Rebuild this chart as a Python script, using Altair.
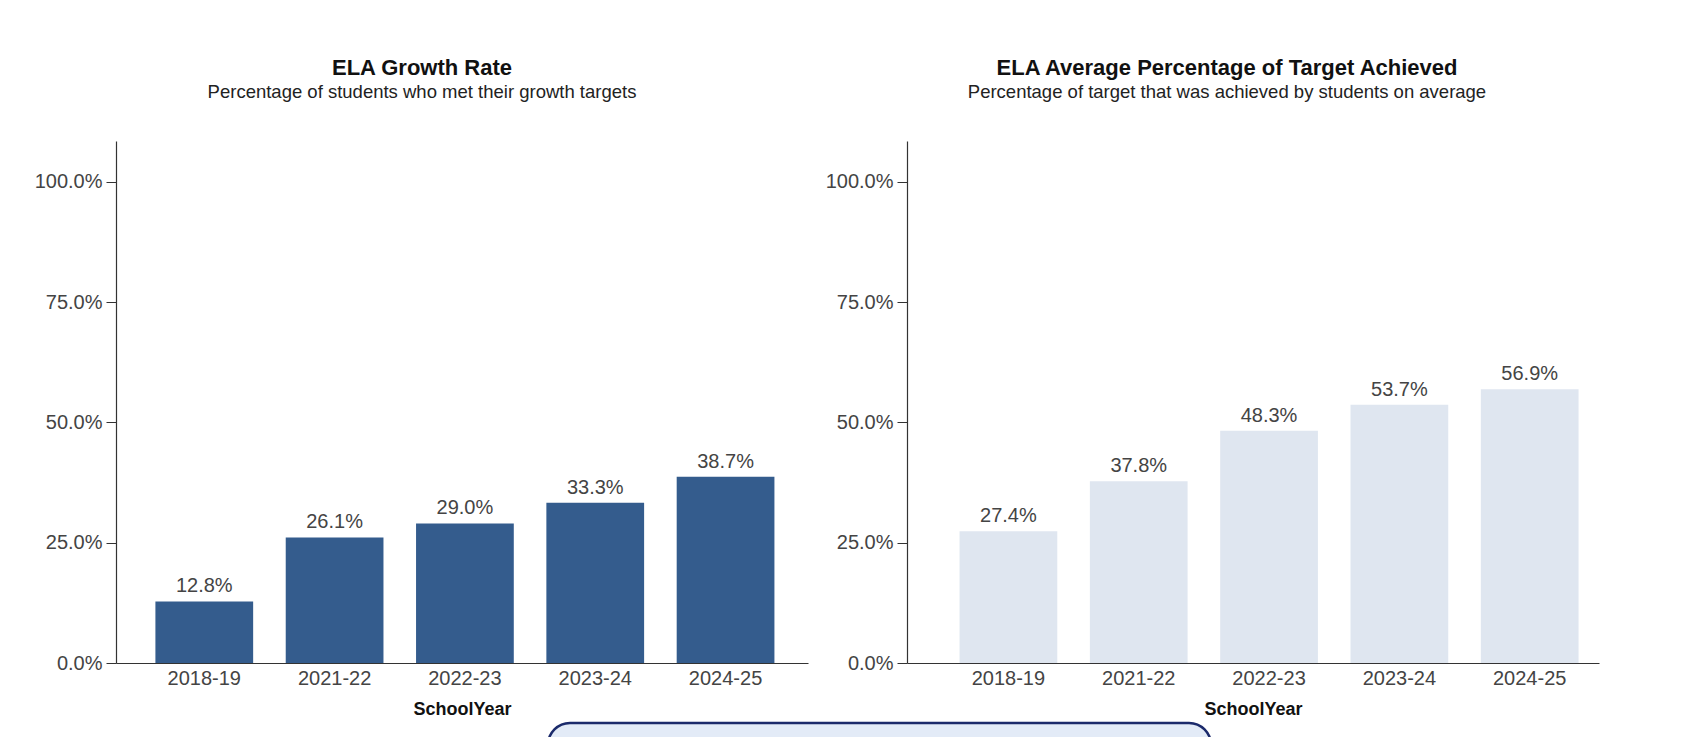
import altair as alt
import pandas as pd

years = ["2018-19", "2021-22", "2022-23", "2023-24", "2024-25"]
growth_rate = [0.128, 0.261, 0.290, 0.333, 0.387]
avg_target = [0.274, 0.378, 0.483, 0.537, 0.569]

titles = ["ELA Growth Rate", "ELA Average Percentage of Target Achieved"]
subtitles = ["Percentage of students who met their growth targets",
             "Percentage of target that was achieved by students on average"]
bar_colors = ["#345C8D", "#DFE6F0"]
y_ticks = [0, 0.25, 0.5, 0.75, 1.0]

FONT = "Liberation Sans"
W, H = 692, 522


def panel(values, color, title, subtitle, dx, align):
    df = pd.DataFrame({"SchoolYear": years, "value": values})
    base = alt.Chart(df)
    x = alt.X(
        "SchoolYear:N", sort=years, title="SchoolYear",
        scale=alt.Scale(paddingInner=0.25, paddingOuter=0.28, align=align),
        axis=alt.Axis(labelAngle=0, ticks=False, labelPadding=5, titlePadding=12,
                      labelFontSize=20, titleFontSize=18, titleFontWeight="bold"),
    )
    y = alt.Y(
        "value:Q", title=None,
        scale=alt.Scale(domain=[0, 1.085], nice=False, zero=True),
        axis=alt.Axis(values=y_ticks, format=".1%", grid=False, tickSize=10,
                      labelPadding=4, labelFontSize=20),
    )
    bars = base.mark_bar(color=color).encode(x=x, y=y)
    text = base.mark_text(dy=-5, baseline="bottom", fontSize=20, color="#444444",
                          font=FONT).encode(
        x=alt.X("SchoolYear:N", sort=years),
        y=alt.Y("value:Q"),
        text=alt.Text("value:Q", format=".1%"),
    )
    return (bars + text).properties(
        width=W, height=H,
        title=alt.TitleParams(
            text=title, subtitle=subtitle, anchor="middle", frame="group", dx=dx,
            fontSize=22, fontWeight="bold", color="#111111", font=FONT,
            subtitleFontSize=18.5, subtitleColor="#222222", subtitleFont=FONT,
            subtitlePadding=3, offset=39,
        ),
    )


left = panel(growth_rate, bar_colors[0], titles[0], subtitles[0], -40, 0.54)
right = panel(avg_target, bar_colors[1], titles[1], subtitles[1], -26, 0.72)

# decorative rounded box at the bottom of the screenshot
box = alt.Chart(pd.DataFrame({"k": [0]})).mark_rect(
    cornerRadius=22, fill="#E3EBF7", stroke="#1B2A6B", strokeWidth=2.5
).encode(
    x=alt.value(432), x2=alt.value(1095), y=alt.value(582), y2=alt.value(650)
)
left = alt.layer(left, box)

chart = alt.hconcat(left, right, spacing=99, bounds="flush").properties(
    padding={"left": 26, "top": 48, "right": 5, "bottom": 0}
).configure_view(stroke=None).configure_axis(
    domainColor="#333333", tickColor="#333333", labelColor="#444444",
    titleColor="#111111", labelFont=FONT, titleFont=FONT, domainWidth=1.2
)

chart.save("out.html", embed_options={"renderer": "svg", "actions": False})
